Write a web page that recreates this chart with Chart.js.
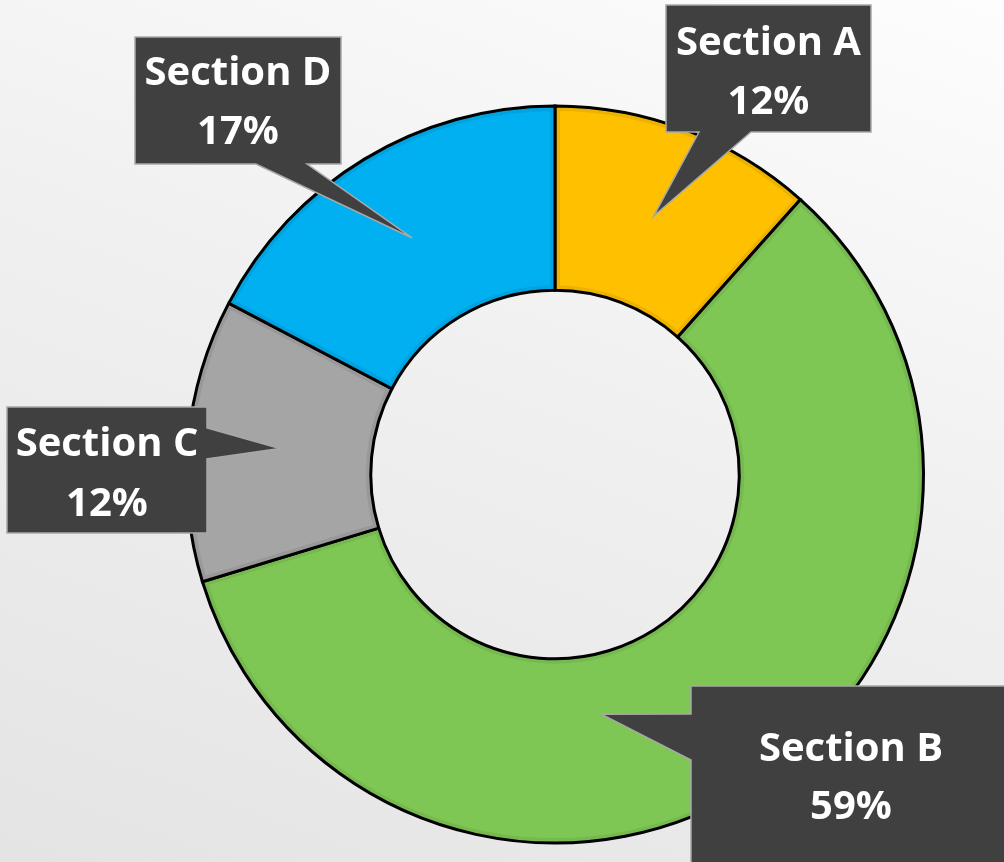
<!DOCTYPE html>
<html>
<head>
<meta charset="utf-8">
<script src="https://cdn.jsdelivr.net/npm/chart.js@4.4.1/dist/chart.umd.min.js"></script>
<style>
  html, body { margin: 0; padding: 0; }
  #wrap {
    width: 1004px;
    height: 862px;
    background: linear-gradient(200deg, #fdfdfd 0%, #f0f0f0 45%, #e4e4e4 100%);
  }
</style>
</head>
<body>
<div id="wrap"><canvas id="donut"></canvas></div>
<script>
const labels = ['Section A', 'Section B', 'Section C', 'Section D'];
const values = [11.6, 58.7, 12.4, 17.3];
const colors = ['#FFC000', '#7FC755', '#A5A5A5', '#00B0F0'];

// callout boxes: x, y, w, h, pointer base side and span, text offsets
const callouts = [
  { box: [666, 5, 205, 127], side: 'bottom', base: [699, 751], text: [39, 98] },
  { box: [691, 686, 330, 200], side: 'left', base: [714, 760], text: [64, 122], cx: 851, tipAt: [0.602, 0.326] },
  { box: [7, 407, 200, 126], side: 'right', base: [428, 459], text: [38, 98] },
  { box: [135, 37, 206, 127], side: 'bottom', base: [256, 307], text: [37, 96] },
];

// soft darker rim inside each slice
const rimPlugin = {
  id: 'rim',
  afterDatasetsDraw(chart) {
    const ctx = chart.ctx;
    chart.getDatasetMeta(0).data.forEach(arc => {
      const p = arc.getProps(['x', 'y', 'startAngle', 'endAngle', 'innerRadius', 'outerRadius'], true);
      ctx.save();
      ctx.beginPath();
      ctx.arc(p.x, p.y, p.outerRadius, p.startAngle, p.endAngle);
      ctx.arc(p.x, p.y, p.innerRadius, p.endAngle, p.startAngle, true);
      ctx.closePath();
      ctx.clip();
      ctx.lineWidth = 10;
      ctx.strokeStyle = 'rgba(0,0,0,0.07)';
      ctx.stroke();
      ctx.restore();
    });
  }
};

const calloutPlugin = {
  id: 'callouts',
  afterDraw(chart) {
    const ctx = chart.ctx;
    const arcs = chart.getDatasetMeta(0).data;
    const total = values.reduce((a, b) => a + b, 0);
    arcs.forEach((arc, i) => {
      const c = callouts[i];
      const p = arc.getProps(['x', 'y', 'startAngle', 'endAngle', 'innerRadius', 'outerRadius'], true);
      const t = c.tipAt || [0.5, 0.5];
      const ang = p.startAngle + (p.endAngle - p.startAngle) * t[0];
      const rad = p.innerRadius + (p.outerRadius - p.innerRadius) * t[1];
      const tx = p.x + Math.cos(ang) * rad;
      const ty = p.y + Math.sin(ang) * rad;
      const [bx, by, bw, bh] = c.box;

      ctx.save();
      ctx.beginPath();
      ctx.moveTo(bx, by);
      ctx.lineTo(bx + bw, by);
      if (c.side === 'right') {
        ctx.lineTo(bx + bw, c.base[0]);
        ctx.lineTo(tx, ty);
        ctx.lineTo(bx + bw, c.base[1]);
      }
      ctx.lineTo(bx + bw, by + bh);
      if (c.side === 'bottom') {
        ctx.lineTo(c.base[1], by + bh);
        ctx.lineTo(tx, ty);
        ctx.lineTo(c.base[0], by + bh);
      }
      ctx.lineTo(bx, by + bh);
      if (c.side === 'left') {
        ctx.lineTo(bx, c.base[1]);
        ctx.lineTo(tx, ty);
        ctx.lineTo(bx, c.base[0]);
      }
      ctx.closePath();
      ctx.fillStyle = '#404040';
      ctx.fill();
      ctx.lineWidth = 1.5;
      ctx.strokeStyle = '#a8a8a8';
      ctx.stroke();

      const cx = c.cx || bx + bw / 2;
      ctx.fillStyle = '#ffffff';
      ctx.font = 'bold 40px "Open Sans"';
      ctx.textAlign = 'center';
      ctx.textBaseline = 'middle';
      ctx.fillText(labels[i], cx, by + c.text[0]);
      ctx.fillText(Math.round(values[i] / total * 100) + '%', cx, by + c.text[1]);
      ctx.restore();
    });
  }
};

new Chart(document.getElementById('donut'), {
  type: 'doughnut',
  data: {
    labels: labels,
    datasets: [{
      data: values,
      backgroundColor: colors,
      borderColor: '#000000',
      borderWidth: 3,
      borderJoinStyle: 'miter',
    }]
  },
  options: {
    responsive: true,
    maintainAspectRatio: false,
    animation: false,
    cutout: '50%',
    layout: { padding: { left: 185, right: 79, top: 104, bottom: 17 } },
    plugins: {
      legend: { display: false },
      tooltip: { enabled: false },
    },
  },
  plugins: [rimPlugin, calloutPlugin],
});
</script>
</body>
</html>
